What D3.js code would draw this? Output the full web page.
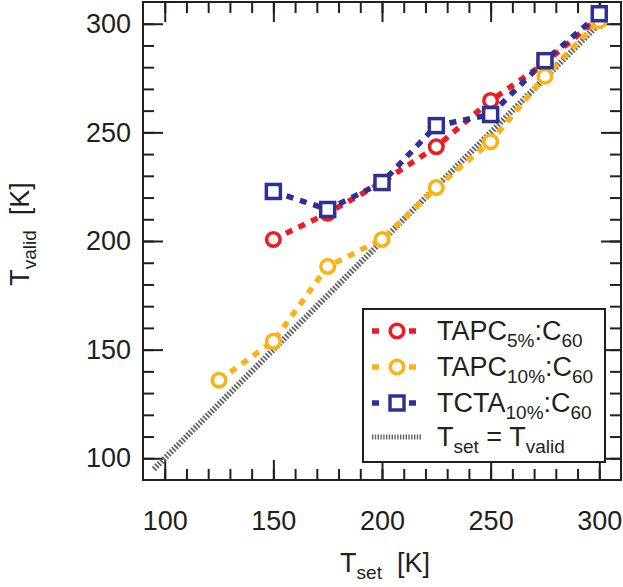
<!DOCTYPE html>
<html>
<head>
<meta charset="utf-8">
<script src="https://cdn.jsdelivr.net/npm/d3@7"></script>
<style>
  body { margin: 0; background: #fff; }
  svg { display: block; }
  text { font-family: "Liberation Sans", Arial, Helvetica, sans-serif; fill: #231f20; }
</style>
</head>
<body>
<script>
// data
const tSet = [125, 150, 175, 200, 225, 250, 275, 300];
const tapc5 = [null, 200.7, 212.8, 227, 243.4, 264.6, 282, 303];
const tapc10 = [135.9, 153.8, 188.3, 200.7, 224.6, 245.7, 275.8, 301.4];
const tcta10 = [null, 222.8, 214.5, 226.9, 253.1, 258.2, 283, 304.6];
const identity = [95, 300];
const xTicks = [100, 150, 200, 250, 300];
const yTicks = [100, 150, 200, 250, 300];

const series = [
    {name: "TAPC", sub: "5%", values: tapc5, color: "#ed1c24", marker: "circle"},
    {name: "TAPC", sub: "10%", values: tapc10, color: "#fbb216", marker: "circle"},
    {name: "TCTA", sub: "10%", values: tcta10, color: "#2e3192", marker: "square"}
];

const W = 623, H = 587;
const margin = {top: 2, right: 2, bottom: 107, left: 143};
const width = W - margin.left - margin.right,
      height = H - margin.top - margin.bottom;

const x = d3.scaleLinear().domain([90, 310]).range([0, width]);
const y = d3.scaleLinear().domain([90, 310]).range([height, 0]);

const svg = d3.select("body").append("svg")
    .attr("width", W)
    .attr("height", H)
    .append("g")
    .attr("transform", "translate(" + margin.left + "," + margin.top + ")");

const minor = d3.range(100, 301, 10);
const ink = "#231f20";
const big = "27px", small = "19px";

// axes: ticks pointing inward on all four sides
let styleAxis = (g) => {
    g.select(".domain").remove();
    g.selectAll("line").attr("stroke", ink).attr("stroke-width", 2);
    g.selectAll("text").style("font-size", big).attr("fill", ink);
};

svg.append("g").attr("transform", "translate(0," + height + ")")
    .call(d3.axisBottom(x).tickValues(minor).tickSize(-11).tickFormat(""))
    .call(styleAxis);
svg.append("g").attr("transform", "translate(0," + height + ")")
    .call(d3.axisBottom(x).tickValues(xTicks).tickSize(-20).tickPadding(31).tickFormat(d3.format("d")))
    .call(styleAxis);
svg.append("g")
    .call(d3.axisTop(x).tickValues(minor).tickSize(-11).tickFormat(""))
    .call(styleAxis);
svg.append("g")
    .call(d3.axisTop(x).tickValues(xTicks).tickSize(-20).tickFormat(""))
    .call(styleAxis);

svg.append("g")
    .call(d3.axisLeft(y).tickValues(minor).tickSize(-11).tickFormat(""))
    .call(styleAxis);
svg.append("g")
    .call(d3.axisLeft(y).tickValues(yTicks).tickSize(-20).tickPadding(12).tickFormat(d3.format("d")))
    .call(styleAxis);
svg.append("g").attr("transform", "translate(" + width + ",0)")
    .call(d3.axisRight(y).tickValues(minor).tickSize(-11).tickFormat(""))
    .call(styleAxis);
svg.append("g").attr("transform", "translate(" + width + ",0)")
    .call(d3.axisRight(y).tickValues(yTicks).tickSize(-20).tickFormat(""))
    .call(styleAxis);

svg.append("rect")
    .attr("width", width).attr("height", height)
    .attr("fill", "none").attr("stroke", ink).attr("stroke-width", 2);

// T_set = T_valid reference line
svg.append("path")
    .datum(identity)
    .attr("d", d3.line().x(d => x(d)).y(d => y(d)))
    .attr("fill", "none")
    .attr("stroke", "#636466")
    .attr("stroke-width", 6)
    .attr("stroke-dasharray", "1.8,1.6");

let drawMarker = (g, kind, color, cx, cy) => {
    if (kind === "circle") {
        g.append("circle").attr("cx", cx).attr("cy", cy).attr("r", 6.8)
            .attr("fill", "#fff").attr("stroke", color).attr("stroke-width", 3.5);
    } else {
        g.append("rect").attr("x", cx - 7).attr("y", cy - 7)
            .attr("width", 14).attr("height", 14)
            .attr("fill", "#fff").attr("stroke", color).attr("stroke-width", 3.5);
    }
};

series.forEach(s => {
    let pts = tSet.map((t, i) => [t, s.values[i]]).filter(p => p[1] !== null);
    let g = svg.append("g");
    g.append("path")
        .datum(pts)
        .attr("d", d3.line().x(d => x(d[0])).y(d => y(d[1])))
        .attr("fill", "none")
        .attr("stroke", s.color)
        .attr("stroke-width", 5.5)
        .attr("stroke-dasharray", "7,7");
    pts.forEach(p => drawMarker(g, s.marker, s.color, x(p[0]), y(p[1])));
});

// legend
const lg = svg.append("g").attr("transform", "translate(" + (363 - margin.left) + "," + (309 - margin.top) + ")");
lg.append("rect").attr("width", 242).attr("height", 153)
    .attr("fill", "#fff").attr("stroke", ink).attr("stroke-width", 2);

const rowY = [22, 58, 94, 128];
series.forEach((s, i) => {
    lg.append("path")
        .attr("d", "M9," + rowY[i] + "H59")
        .attr("stroke", s.color).attr("stroke-width", 5.5)
        .attr("stroke-dasharray", "7,11.5");
    drawMarker(lg, s.marker, s.color, 34, rowY[i]);
    let t = lg.append("text").attr("x", 74).attr("y", rowY[i] + 9).style("font-size", big);
    t.append("tspan").text(s.name);
    t.append("tspan").attr("dy", 7).style("font-size", small).text(s.sub);
    t.append("tspan").attr("dy", -7).text(":C");
    t.append("tspan").attr("dy", 7).style("font-size", small).text("60");
});
lg.append("path")
    .attr("d", "M9," + rowY[3] + "H59")
    .attr("stroke", "#636466").attr("stroke-width", 5)
    .attr("stroke-dasharray", "1.4,1.4");
let tl = lg.append("text").attr("x", 74).attr("y", rowY[3] + 9).style("font-size", big);
tl.append("tspan").text("T");
tl.append("tspan").attr("dy", 7).style("font-size", small).text("set");
tl.append("tspan").attr("dy", -7).text(" = T");
tl.append("tspan").attr("dy", 7).style("font-size", small).text("valid");

// axis titles
let xt = svg.append("text")
    .attr("x", 385 - margin.left).attr("y", 572 - margin.top)
    .attr("text-anchor", "middle").style("font-size", big);
xt.append("tspan").text("T");
xt.append("tspan").attr("dy", 7).style("font-size", small).text("set");
xt.append("tspan").attr("dy", -7).text("\u00a0\u00a0[K]");

let yt = svg.append("text")
    .attr("transform", "translate(" + (29 - margin.left) + "," + (234 - margin.top) + ") rotate(-90)")
    .attr("text-anchor", "middle").style("font-size", big);
yt.append("tspan").text("T");
yt.append("tspan").attr("dy", 7).style("font-size", small).text("valid");
yt.append("tspan").attr("dy", -7).text("\u00a0\u00a0[K]");
</script>
</body>
</html>
